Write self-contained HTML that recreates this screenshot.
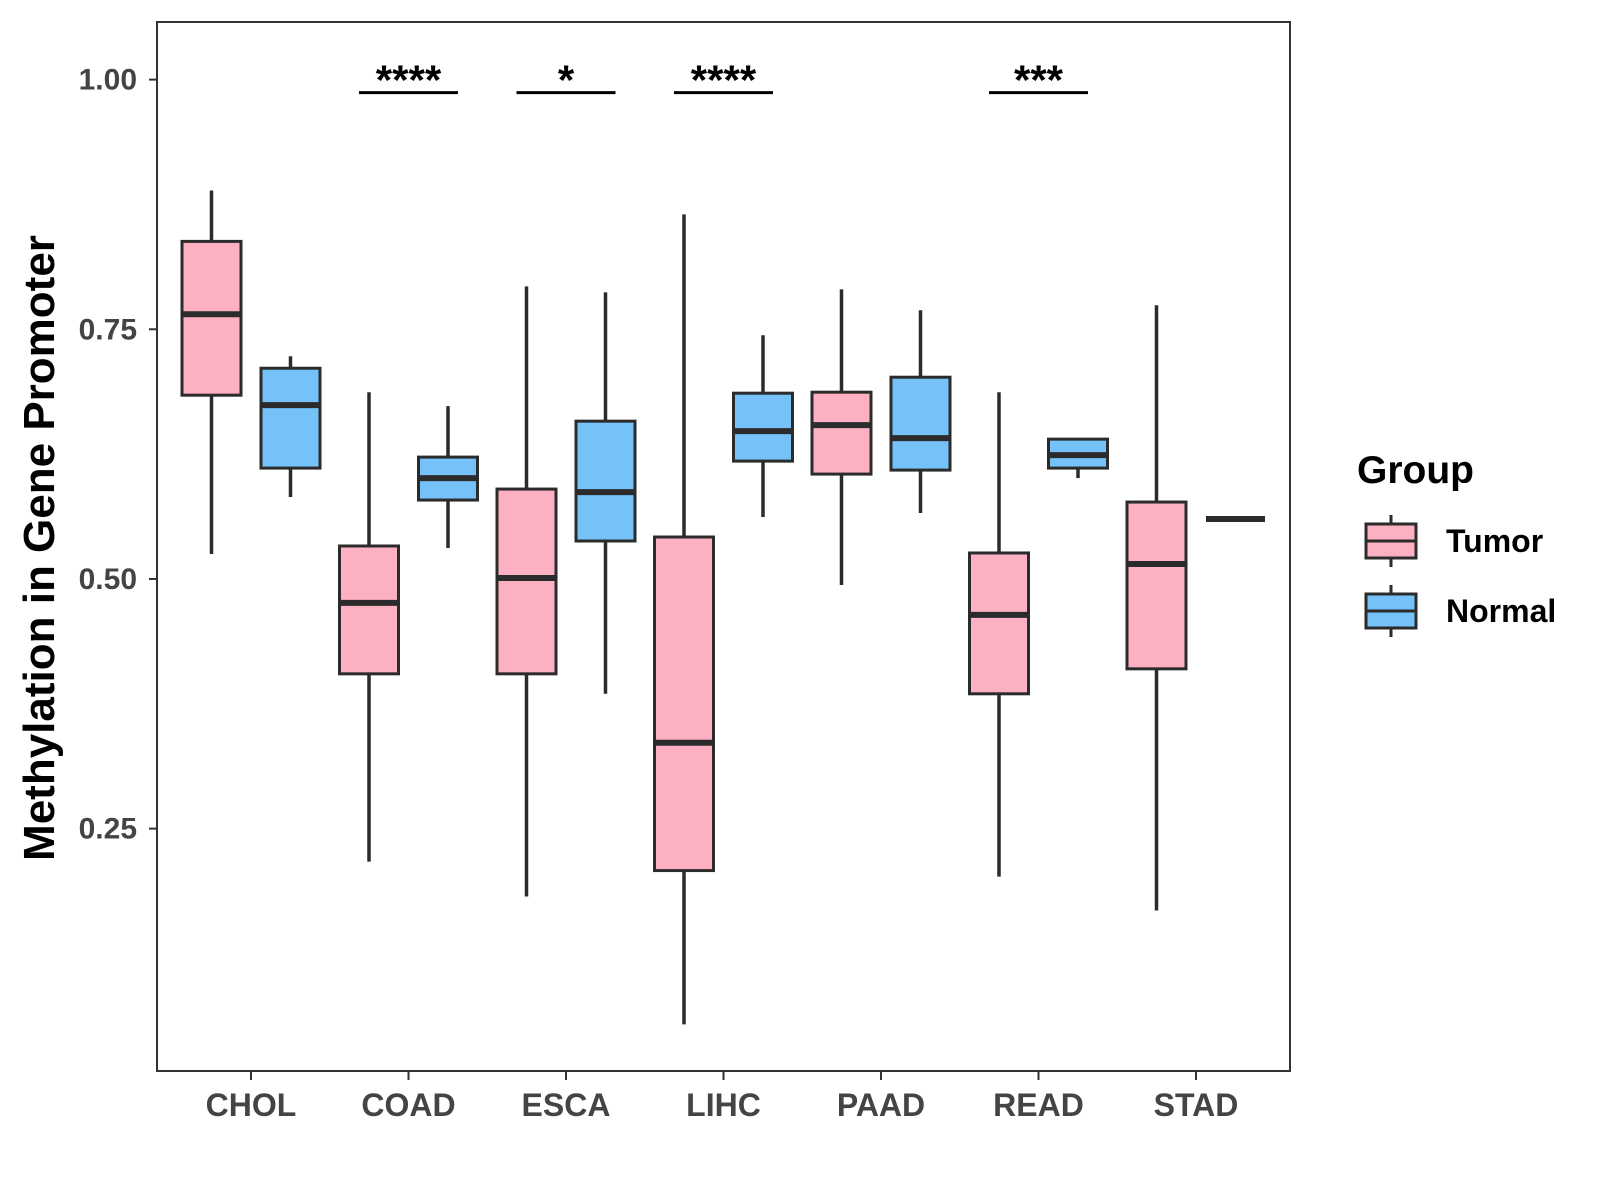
<!DOCTYPE html>
<html><head><meta charset="utf-8"><style>
html,body{margin:0;padding:0;background:#fff;}
svg{display:block;font-family:"Liberation Sans",Arial,sans-serif;}
</style></head><body>
<svg id="chart" width="1600" height="1200" viewBox="0 0 1600 1200" xmlns="http://www.w3.org/2000/svg">
<rect x="0" y="0" width="1600" height="1200" fill="#fff"/>
<g id="plot"></g>
</svg>
<script>
const categories = ["CHOL","COAD","ESCA","LIHC","PAAD","READ","STAD"];
// [lowWhisker, q1, median, q3, highWhisker]
const tumorStats = [
  [0.525,0.684,0.765,0.838,0.889],
  [0.217,0.405,0.476,0.533,0.687],
  [0.182,0.405,0.501,0.590,0.793],
  [0.054,0.208,0.336,0.542,0.865],
  [0.494,0.605,0.654,0.687,0.790],
  [0.202,0.385,0.464,0.526,0.687],
  [0.168,0.410,0.515,0.577,0.774]
];
const normalStats = [
  [0.582,0.611,0.674,0.711,0.723],
  [0.531,0.579,0.601,0.622,0.673],
  [0.385,0.538,0.587,0.658,0.787],
  [0.562,0.618,0.648,0.686,0.744],
  [0.566,0.609,0.641,0.702,0.769],
  [0.601,0.611,0.624,0.640,0.640],
  [0.560,0.560,0.560,0.560,0.560]
];
const sigCategories = ["COAD","ESCA","LIHC","READ"];
const sigLabels = ["****","*","****","***"];
const sigLevel = 0.987;
const yTicks = [0.25,0.50,0.75,1.00];
const yTickLabels = ["0.25","0.50","0.75","1.00"];

const NS="http://www.w3.org/2000/svg";
const plot=document.getElementById('plot');
const L=157,R=1290,T=22,B=1071;
function y(v){return 79.6+(1-v)*998.7;}
function xc(i){return 251+i*157.5;}
function mk(tag,attrs,parent){const e=document.createElementNS(NS,tag);for(const k in attrs)e.setAttribute(k,attrs[k]);(parent||plot).appendChild(e);return e;}

let panel=mk('rect',{x:L,y:T,width:R-L,height:B-T,fill:'none',stroke:'#333','stroke-width':2});



yTicks.forEach((v,i)=>{
  let t=mk('line',{x1:L-8,x2:L,y1:y(v),y2:y(v),stroke:'#333','stroke-width':2});
  
  
  let tx=mk('text',{x:L-20,y:y(v)+10,'text-anchor':'end','font-size':30,'font-weight':'bold',fill:'#444'});
  tx.textContent=yTickLabels[i];
  
  
});
categories.forEach((c,i)=>{
  let t=mk('line',{x1:xc(i),x2:xc(i),y1:B,y2:B+9,stroke:'#333','stroke-width':2});
  
  
  let tx=mk('text',{x:xc(i),y:B+45,'text-anchor':'middle','font-size':32,'font-weight':'bold',fill:'#444'});
  tx.textContent=c;
  
  
});
let yt=mk('text',{x:0,y:0,transform:'translate(54,548) rotate(-90)','text-anchor':'middle','font-size':44,'font-weight':'bold',fill:'#000'});
yt.textContent='Methylation in Gene Promoter';



function drawBox(s,cx,fill,name){
  const w=59;
  let g=mk('g',{});
  
  
  mk('line',{x1:cx,x2:cx,y1:y(s[4]),y2:y(s[0]),stroke:'#2b2b2b','stroke-width':3.5},g);
  mk('rect',{x:cx-w/2,y:y(s[3]),width:w,height:Math.max(0,y(s[1])-y(s[3])),fill:fill,stroke:'#2b2b2b','stroke-width':3},g);
  mk('line',{x1:cx-w/2,x2:cx+w/2,y1:y(s[2]),y2:y(s[2]),stroke:'#2b2b2b','stroke-width':6},g);
}
categories.forEach((c,i)=>{
  drawBox(tumorStats[i],xc(i)-39.5,'#FDB0C2','box-tumor-'+c.toLowerCase());
  drawBox(normalStats[i],xc(i)+39.5,'#74C2F8','box-normal-'+c.toLowerCase());
});
sigCategories.forEach((c,k)=>{
  const i=categories.indexOf(c);
  let l=mk('line',{x1:xc(i)-49.5,x2:xc(i)+49.5,y1:y(sigLevel),y2:y(sigLevel),stroke:'#000','stroke-width':3});
  
  
  let tx=mk('text',{x:xc(i),y:y(sigLevel)+2,'text-anchor':'middle','font-size':42,'font-weight':'bold',fill:'#000'});
  tx.textContent=sigLabels[k];
  
  
});
let lt=mk('text',{x:1357,y:483,'font-size':39,'font-weight':'bold',fill:'#000'});
lt.textContent='Group';


[['Tumor','#FDB0C2',541],['Normal','#74C2F8',611]].forEach(([n,f,cy])=>{
  let g=mk('g',{});
  
  
  mk('line',{x1:1391,x2:1391,y1:cy-26,y2:cy+26,stroke:'#2b2b2b','stroke-width':3},g);
  mk('rect',{x:1366,y:cy-17,width:50,height:34,fill:f,stroke:'#2b2b2b','stroke-width':3},g);
  mk('line',{x1:1366,x2:1416,y1:cy,y2:cy,stroke:'#2b2b2b','stroke-width':3},g);
  let tx=mk('text',{x:1446,y:cy+11,'font-size':32,'font-weight':'bold',fill:'#000'},g);
  tx.textContent=n;
});
</script>
</body></html>
